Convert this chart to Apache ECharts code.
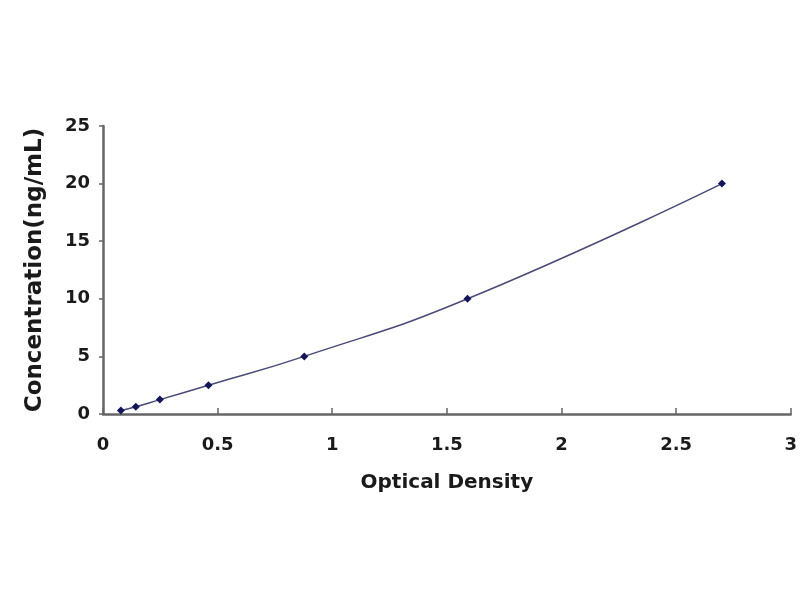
<!DOCTYPE html>
<html><head><meta charset="utf-8">
<script src="https://cdn.jsdelivr.net/npm/echarts@6/dist/echarts.min.js"></script>
<style>html,body{margin:0;padding:0;background:#fff}#c{width:800px;height:600px}</style>
</head><body><div id="c"></div>
<script>
const odValues = [0.078, 0.143, 0.248, 0.46, 0.878, 1.59, 2.70];
const concValues = [0.3125, 0.625, 1.25, 2.5, 5, 10, 20];
const xTicks = [0, 0.5, 1, 1.5, 2, 2.5, 3];
const yTicks = [0, 5, 10, 15, 20, 25];

const chart = echarts.init(document.getElementById('c'));
const pts = odValues.map((x, i) => [x, concValues[i]]);
const font = '"DejaVu Sans", Verdana, sans-serif';
chart.setOption({
  animation: false,
  backgroundColor: '#fff',
  grid: { left: 103, right: 7, top: 126, bottom: 186, containLabel: false },
  xAxis: {
    type: 'value', min: xTicks[0], max: xTicks[xTicks.length - 1], interval: 0.5,
    name: 'Optical Density', nameLocation: 'middle', nameGap: 59,
    nameTextStyle: { fontFamily: font, fontWeight: 'bold', fontSize: 20, color: '#1a1a1a' },
    axisLine: { show: true, lineStyle: { color: '#666', width: 2.5 } },
    axisTick: { show: true, inside: true, length: 6, lineStyle: { color: '#666', width: 1.5 } },
    axisLabel: { fontFamily: font, fontWeight: 'bold', fontSize: 18, color: '#1a1a1a', margin: 22 },
    splitLine: { show: false }
  },
  yAxis: {
    type: 'value', min: yTicks[0], max: yTicks[yTicks.length - 1], interval: 5,
    name: 'Concentration(ng/mL)', nameLocation: 'middle', nameGap: 56, nameRotate: 90,
    nameTextStyle: { fontFamily: font, fontWeight: 'bold', fontSize: 23, color: '#1a1a1a' },
    axisLine: { show: true, lineStyle: { color: '#666', width: 2.5 } },
    axisTick: { show: true, inside: false, length: 4, lineStyle: { color: '#666', width: 1.5 } },
    axisLabel: { fontFamily: font, fontWeight: 'bold', fontSize: 18, color: '#1a1a1a', margin: 13 },
    splitLine: { show: false }
  },
  series: [{
    type: 'line', data: pts, smooth: true,
    symbol: 'diamond', symbolSize: 8,
    itemStyle: { color: '#14145a' },
    lineStyle: { color: '#4a4a78', width: 1.5 }
  }]
});
</script></body></html>
